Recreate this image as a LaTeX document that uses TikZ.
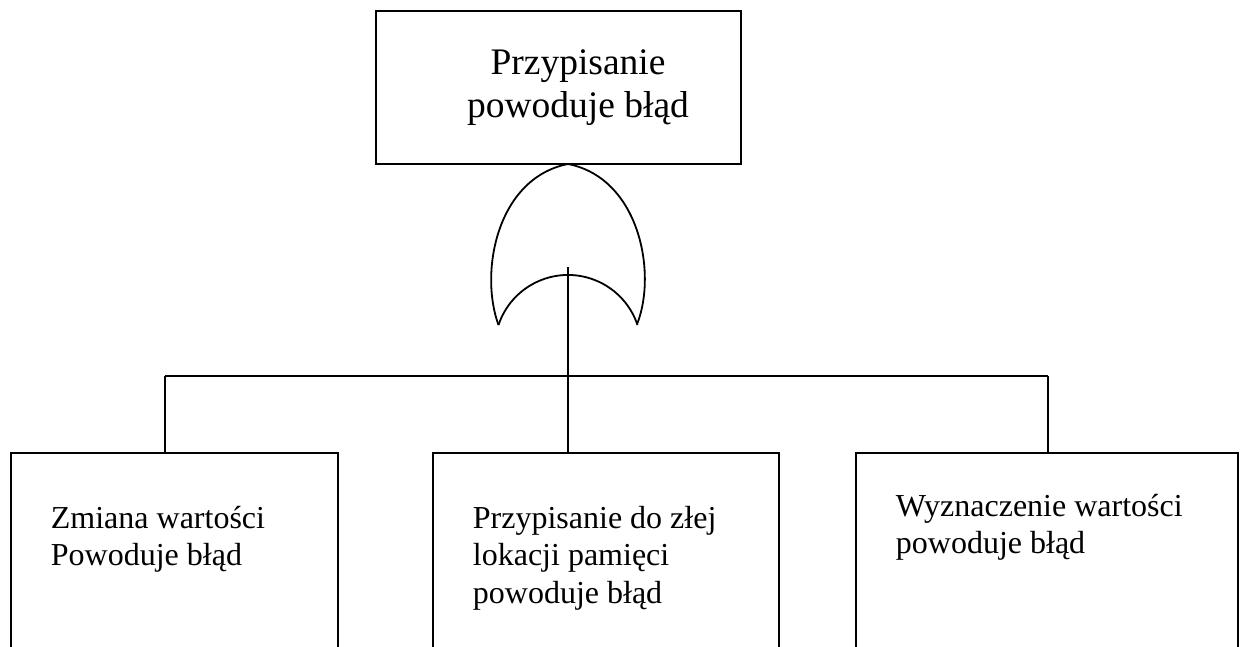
\documentclass[tikz,border=0pt]{standalone}
\usepackage{fontspec}
\setmainfont{Liberation Serif}
\begin{document}
\begin{tikzpicture}[x=1pt,y=-1pt,
  line width=1.8pt,
  box/.style={draw, inner sep=0pt},
  bigtext/.style={font=\fontsize{37.5}{43}\selectfont, align=center, inner sep=0pt},
  smalltext/.style={font=\fontsize{32}{37.5}\selectfont, align=left, inner sep=0pt, anchor=north west}]
\clip (0,0) rectangle (1241,646);

% top event
\node[box, minimum width=365pt, minimum height=153pt] (top) at (558.5,87.5) {};
\node[bigtext] (toptext) at (578,88) {Przypisanie\\powoduje błąd};

% OR gate: pointed outer arch and concave input arc
\coordinate (gtop) at (568,164);
\coordinate (gin) at (568,267);
\coordinate (gl) at (498.5,325);
\coordinate (gr) at (637.5,323);
\draw (gl) .. controls (479,272) and (497,178) .. (gtop)
           .. controls (639,178) and (657,272) .. (gr);
\draw (gl) arc[start angle=198.5, end angle=341.5, radius=73.3];

% basic events (boxes run past the lower edge)
\node[box, minimum width=327pt, minimum height=227pt] (left) at (174.5,566.5) {};
\node[box, minimum width=346pt, minimum height=227pt] (mid) at (606,566.5) {};
\node[box, minimum width=382pt, minimum height=227pt] (right) at (1047,566.5) {};

\node[smalltext] (lefttext) at (50,505) {Zmiana wartości\\Powoduje błąd};
\node[smalltext] (midtext) at (472,505) {Przypisanie do złej\\lokacji pamięci\\powoduje błąd};
\node[smalltext] (righttext) at (895,493) {Wyznaczenie wartości\\powoduje błąd};

% connectors
\coordinate (jl) at (165,376);
\coordinate (jr) at (1048,376);
\draw (jl) -- (jr);
\draw (jl) -- (jl |- left.north);
\draw (jr) -- (jr |- right.north);
\draw (gin) -- (gin |- mid.north);
\end{tikzpicture}
\end{document}
